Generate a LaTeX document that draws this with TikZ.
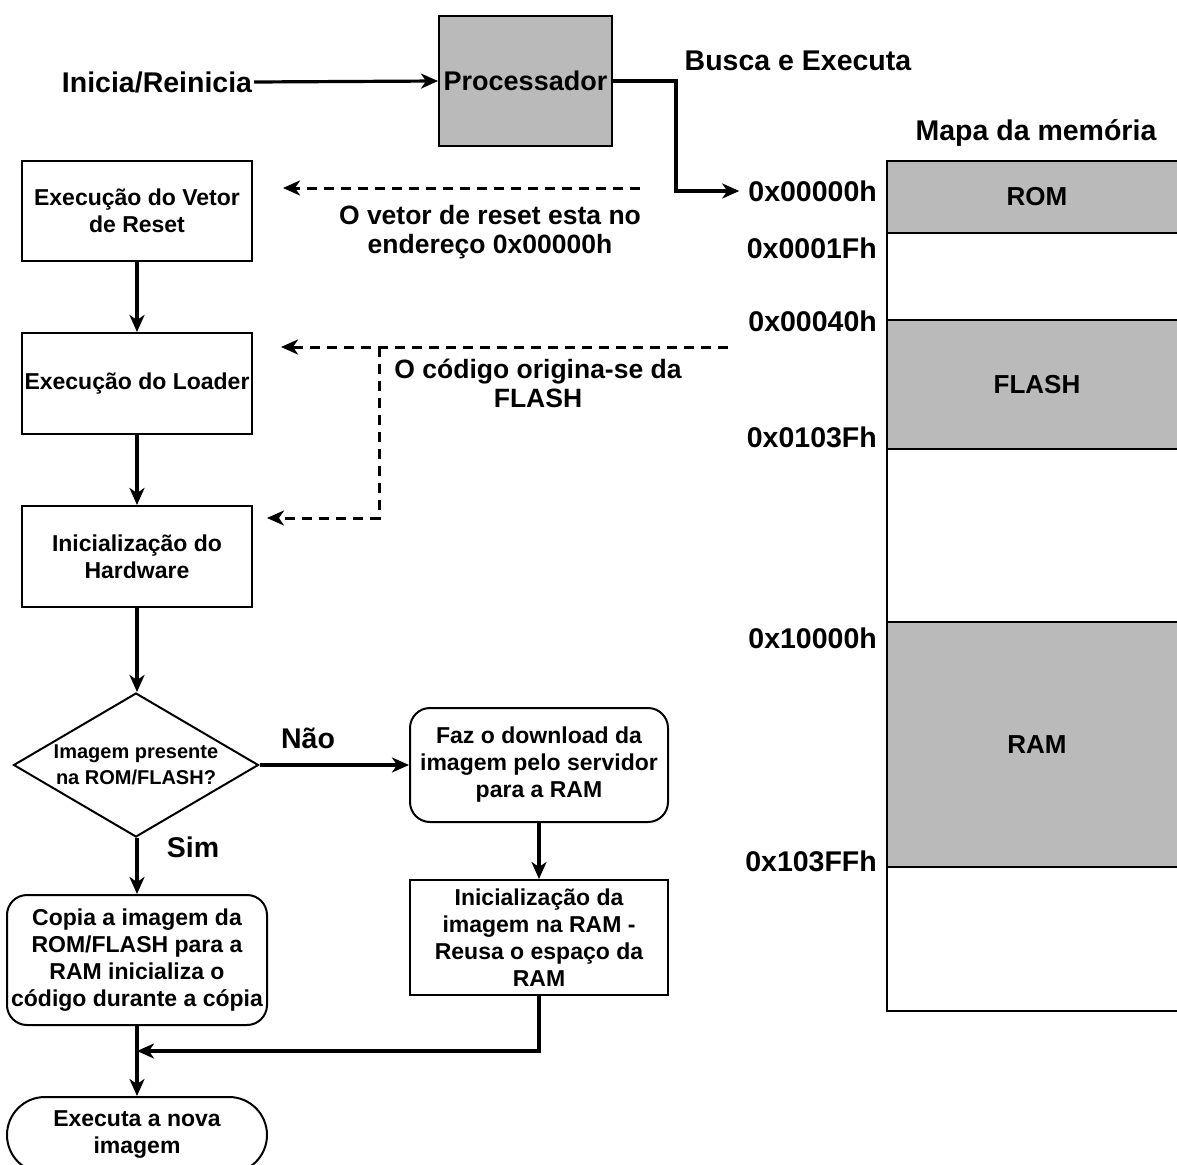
\documentclass[tikz,border=0pt]{standalone}
\usepackage{fontspec}
\setmainfont{Liberation Sans}
\usetikzlibrary{arrows.meta,shapes.geometric,calc}
\definecolor{blockgray}{RGB}{186,186,186}
\begin{document}
\begin{tikzpicture}[x=1pt,y=-1pt,
  flowbox/.style={draw=black, line width=2pt, align=center, inner sep=0pt,
    font=\fontsize{23}{27}\selectfont\bfseries},
  roundbox/.style={flowbox, rounded corners=20pt},
  decision/.style={draw=black, line width=2pt, shape=diamond, aspect=1.68,
    align=center, inner sep=0pt, minimum width=245pt, minimum height=144pt,
    font=\fontsize{20}{26}\selectfont\bfseries},
  biglabel/.style={inner sep=0pt, font=\fontsize{28.5}{33}\selectfont\bfseries},
  notelabel/.style={inner sep=0pt, align=center, font=\fontsize{26.5}{29}\selectfont\bfseries},
  memblk/.style={draw=black, line width=2pt, anchor=north west, inner sep=0pt,
    minimum width=300pt, font=\fontsize{26}{30}\selectfont\bfseries},
  addr/.style={anchor=east, inner sep=0pt, font=\fontsize{28.5}{33}\selectfont\bfseries},
  conn/.style={line width=3.2pt, -{Stealth[length=17pt,width=15pt,inset=5pt]}},
  dashconn/.style={line width=3pt, dash pattern=on 10pt off 7pt,
    -{Stealth[length=17pt,width=15pt,inset=5pt]}}
]
\useasboundingbox (0,0) rectangle (1177,1164);
\clip (0,0) rectangle (1177,1164);

% processor and start signal
\node[biglabel, inner sep=2pt] (start) at (157,82) {Inicia/Reinicia};
\node[draw=black, line width=2pt, fill=blockgray, inner sep=0pt,
      minimum width=173pt, minimum height=130pt,
      font=\fontsize{27}{31}\selectfont\bfseries] (proc) at (525.5,81) {Processador};
\node[biglabel] (busca) at (798,61) {Busca e Executa};
\draw[conn] (start.east) -- (proc.west);

% memory map
\node[biglabel] (mapa) at (1036,133) {Mapa da memória};
\node[memblk, fill=blockgray, minimum height=72pt] (rom) at (886,160) {ROM};
\node[memblk, minimum height=87pt] (gapa) at (886,232) {};
\node[memblk, fill=blockgray, minimum height=129pt] (flash) at (886,319) {FLASH};
\node[memblk, minimum height=173pt] (gapb) at (886,448) {};
\node[memblk, fill=blockgray, minimum height=245pt] (ram) at (886,621) {RAM};
\node[memblk, minimum height=144pt] (gapc) at (886,866) {};

\node[addr] (a0) at (877,191) {0x00000h};
\node[addr] (a1) at (877,248) {0x0001Fh};
\node[addr] (a2) at (877,321) {0x00040h};
\node[addr] (a3) at (877,437) {0x0103Fh};
\node[addr] (a4) at (877,638) {0x10000h};
\node[addr] (a5) at (877,861) {0x103FFh};

\coordinate (fetchcorner) at (676,81);
\draw[conn] (proc.east) -- (fetchcorner) |- ([xshift=-9pt]a0.west);

% boot flow
\node[flowbox, minimum width=230pt, minimum height=100pt] (vetor) at (137,211)
  {Execução do Vetor\\de Reset};
\node[flowbox, minimum width=230pt, minimum height=101pt] (loader) at (137,383.5)
  {Execução do Loader};
\node[flowbox, minimum width=230pt, minimum height=101pt] (hw) at (137,556.5)
  {Inicialização do\\Hardware};
\node[decision] (img) at (136,765) {Imagem presente\\na ROM/FLASH?};
\node[roundbox, minimum width=258pt, minimum height=114pt] (down) at (539,765)
  {Faz o download da\\imagem pelo servidor\\para a RAM};
\node[flowbox, minimum width=258pt, minimum height=115pt] (raminit) at (539,937.5)
  {Inicialização da\\imagem na RAM -\\Reusa o espaço da\\RAM};
\node[roundbox, minimum width=260pt, minimum height=130pt] (copia) at (137,960)
  {Copia a imagem da\\ROM/FLASH para a\\RAM inicializa o\\código durante a cópia};
\node[flowbox, rounded corners=38pt, minimum width=260pt, minimum height=76pt] (exec) at (137,1135)
  {Executa a nova\\imagem};

\node[biglabel] (nao) at (308,738) {Não};
\node[biglabel] (sim) at (193,847) {Sim};

\draw[conn] (vetor) -- (loader);
\draw[conn] (loader) -- (hw);
\draw[conn] (hw.south) -- (img.north -| hw.south);
\draw[conn] (img.east) -- (down.west);
\draw[conn] (img.south -| copia.north) -- (copia.north);
\draw[conn] (down) -- (raminit);
\coordinate (join) at (137,1051);
\draw[conn] (raminit.south) |- (join);
\draw[conn] (copia) -- (exec);

% dashed notes
\coordinate (n1a) at (640,188);
\coordinate (n1b) at (283,188);
\draw[dashconn] (n1a) -- (n1b);
\node[notelabel] (note1) at (490,232) {O vetor de reset esta no\\endereço 0x00000h};

\coordinate (n2a) at (728,347);
\coordinate (n2b) at (281,347);
\coordinate (n2c) at (379,347);
\coordinate (n2d) at (267,518);
\draw[dashconn] (n2a) -- (n2b);
\draw[dashconn] (n2c) |- (n2d);
\node[notelabel] (note2) at (538,383) {O código origina-se da\\FLASH};
\end{tikzpicture}
\end{document}
